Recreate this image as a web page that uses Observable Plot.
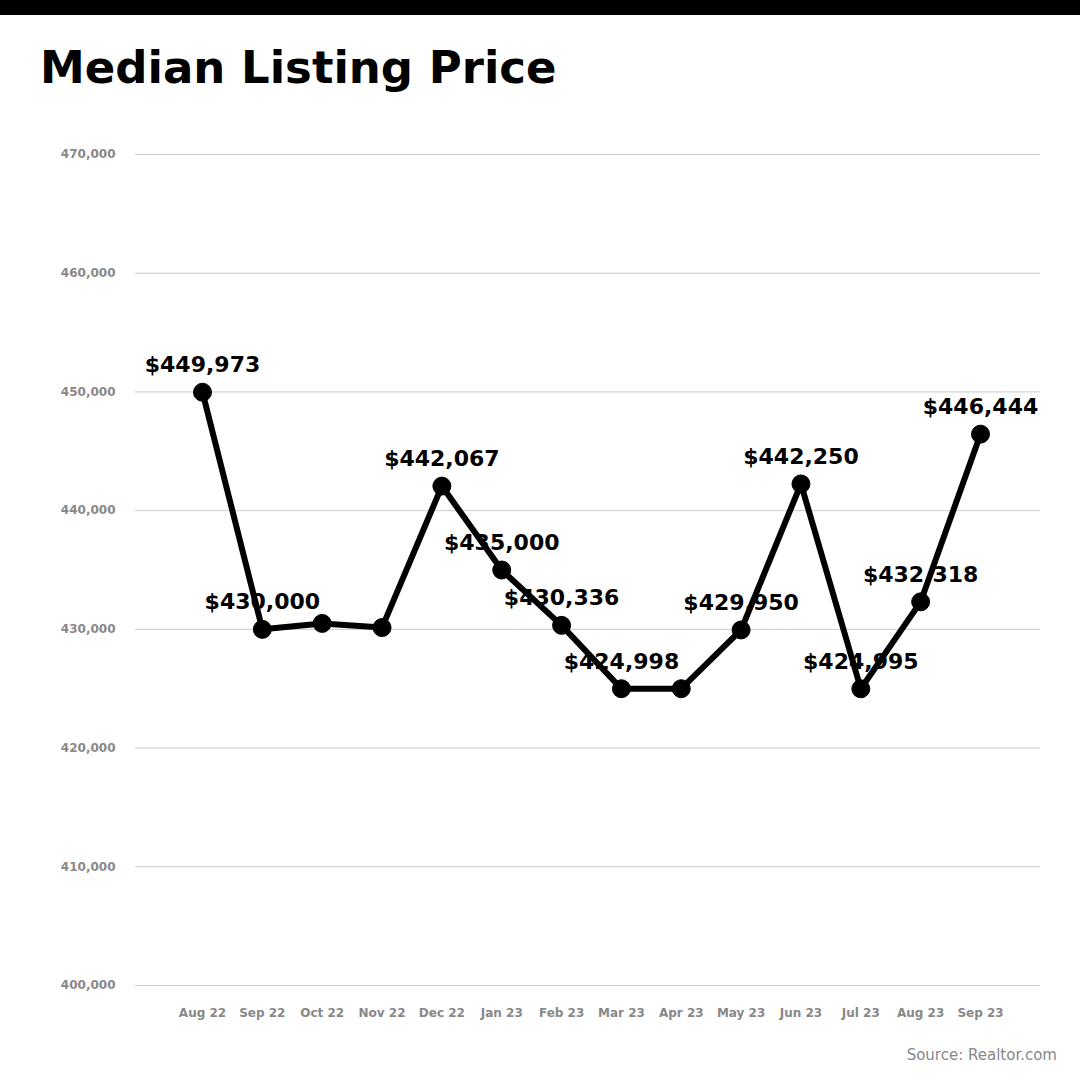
<!DOCTYPE html>
<html>
<head>
<meta charset="utf-8">
<script src="https://cdn.jsdelivr.net/npm/d3@7"></script>
<script src="https://cdn.jsdelivr.net/npm/@observablehq/plot@0.6"></script>
<style>
  html, body { margin: 0; padding: 0; background: #fff; font-family: "DejaVu Sans", sans-serif; }
  #wrap { position: relative; width: 1080px; height: 1080px; overflow: hidden; }
  #bar { height: 15px; background: #000; }
  #title { position: absolute; left: 40px; top: 45px; font-size: 45px; font-weight: bold; color: #000; line-height: 1; margin: 0; }
  #chart { position: absolute; left: 0; top: 110px; }
  #source { position: absolute; right: 23px; top: 1046px; font-size: 15px; color: #888; }
</style>
</head>
<body>
<div id="wrap">
  <div id="bar"></div>
  <h1 id="title">Median Listing Price</h1>
  <div id="chart"></div>
  <div id="source">Source: Realtor.com</div>
</div>
<script>
const months = ["Aug 22","Sep 22","Oct 22","Nov 22","Dec 22","Jan 23","Feb 23","Mar 23","Apr 23","May 23","Jun 23","Jul 23","Aug 23","Sep 23"];
const prices = [449973, 430000, 430500, 430150, 442067, 435000, 430336, 424998, 425000, 429950, 442250, 424995, 432318, 446444];
const showLabel = [true, true, false, false, true, true, true, true, false, true, true, true, true, true];
const yTicks = [400000, 410000, 420000, 430000, 440000, 450000, 460000, 470000];

const data = months.map((m, i) => ({month: m, price: prices[i], label: showLabel[i] ? d3.format("$,")(prices[i]) : ""}));

const chart = Plot.plot({
  width: 1080,
  height: 935,
  marginTop: 44,
  marginBottom: 60,
  marginLeft: 135,
  marginRight: 40,
  style: {fontFamily: "DejaVu Sans, sans-serif", background: "transparent"},
  x: {type: "point", domain: months, padding: 0, round: false, insetLeft: 67, insetRight: 60, label: null},
  y: {domain: [400000, 470000], label: null},
  marks: [
    Plot.ruleY(yTicks, {stroke: "#cccccc", strokeWidth: 1}),
    Plot.axisY({ticks: yTicks, tickSize: 0, tickPadding: 20, tickFormat: d3.format(","), fontSize: 12, fontWeight: "bold", fill: "#888", label: null}),
    Plot.axisX({tickSize: 0, tickPadding: 23, fontSize: 12, fontWeight: "bold", fill: "#888", label: null}),
    Plot.line(data, {x: "month", y: "price", stroke: "#000", strokeWidth: 6, strokeLinejoin: "round"}),
    Plot.dot(data, {x: "month", y: "price", r: 9, fill: "#000", stroke: "#000", strokeWidth: 1}),
    Plot.text(data, {x: "month", y: "price", text: "label", dy: -27, fontSize: 22, fontWeight: "bold", fill: "#000"})
  ]
});
document.getElementById("chart").appendChild(chart);
</script>
</body>
</html>
